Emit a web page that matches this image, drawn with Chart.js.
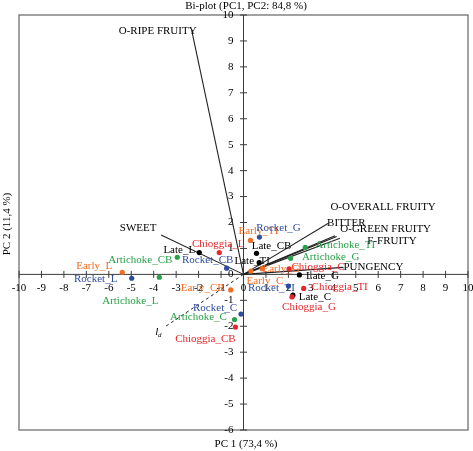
<!DOCTYPE html>
<html>
<head>
<title>Bi-plot PC1 / PC2</title>
<script src="https://cdn.jsdelivr.net/npm/chart.js"></script>
<style>
body { margin: 0; background: #fff; }
</style>
</head>
<body>
<canvas id="myChart" width="473" height="451"></canvas>
<script>
// tick labels
const xTicks = [-10, -9, -8, -7, -6, -5, -4, -3, -2, -1, 0, 1, 2, 3, 4, 5, 6, 7, 8, 9, 10];
const yTicks = [-6, -5, -4, -3, -2, -1, 0, 1, 2, 3, 4, 5, 6, 7, 8, 9, 10];

// sample scores (PC1, PC2) per group
const chioggiaNames = ['Chioggia_L', 'Chioggia_CB', 'Chioggia_C', 'Chioggia_TI', 'Chioggia_G'];
const chioggiaPC1 = [-1.08, -0.36, 2.03, 2.68, 2.16];
const chioggiaPC2 = [0.84, -2.03, 0.21, -0.54, -0.87];

const earlyNames = ['Early_L', 'Early_CB', 'Early_TI', 'Early_C', 'Early_G'];
const earlyPC1 = [-5.40, -0.57, 0.31, 0.33, 0.83];
const earlyPC2 = [0.08, -0.60, 1.31, 0.13, 0.22];

const rocketNames = ['Rocket_L', 'Rocket_CB', 'Rocket_C', 'Rocket_G', 'Rocket_TI'];
const rocketPC1 = [-4.98, -0.75, -0.11, 0.71, 2.00];
const rocketPC2 = [-0.15, 0.24, -1.53, 1.44, -0.45];

const artichokeNames = ['Artichoke_L', 'Artichoke_CB', 'Artichoke_C', 'Artichoke_TI', 'Artichoke_G'];
const artichokePC1 = [-3.75, -2.95, -0.40, 2.75, 2.10];
const artichokePC2 = [-0.11, 0.66, -1.74, 1.04, 0.62];

const lateNames = ['Late_L', 'Late_CB', 'Late_TI', 'Late_G', 'Late_C'];
const latePC1 = [-1.97, 0.58, 0.70, 2.49, 2.20];
const latePC2 = [0.84, 0.81, 0.45, -0.02, -0.80];

// attribute loadings
const attrNames = ['O-RIPE FRUITY', 'SWEET', 'BITTER', 'O-OVERALL FRUITY', 'O-GREEN FRUITY', 'F-FRUITY', 'PUNGENCY'];
const attrPC1 = [-2.31, -3.67, 3.78, 4.08, 4.15, 4.30, 4.45];
const attrPC2 = [9.42, 1.52, 1.97, 1.49, 1.46, 1.39, 0.27];

// discriminant direction l_d
const ldPC1 = -3.55;
const ldPC2 = -2.05;

// label placement (pixel offset of label centre from its point)
const labelOffset = {
  'Early_L': [-28, -6], 'Early_CB': [-28, -2], 'Early_TI': [8, -9], 'Early_C': [14, 10], 'Early_G': [19, 0],
  'Rocket_L': [-36, 1], 'Rocket_CB': [-19, -8], 'Rocket_C': [-26, -6], 'Rocket_G': [19, -9], 'Rocket_TI': [-17, 2],
  'Artichoke_L': [-29, 24], 'Artichoke_CB': [-37, 3], 'Artichoke_C': [-36, -2], 'Artichoke_TI': [40, -2], 'Artichoke_G': [40, -1],
  'Chioggia_L': [-1, -8], 'Chioggia_CB': [-30, 12], 'Chioggia_C': [29, -2], 'Chioggia_TI': [36, -1], 'Chioggia_G': [17, 10],
  'Late_L': [-20, -2], 'Late_CB': [15, -7], 'Late_TI': [-7, -2], 'Late_G': [23, 1], 'Late_C': [22, 2],
  'O-RIPE FRUITY': [-34, 1], 'SWEET': [-23, -7], 'BITTER': [18, 0], 'O-OVERALL FRUITY': [48, -29],
  'O-GREEN FRUITY': [49, -7], 'F-FRUITY': [52, 3], 'PUNGENCY': [30, 0]
};

const FONT = '11px "Liberation Serif", "Times New Roman", serif';
const colors = {
  early: '#f26c22',
  rocket: '#2e4c9e',
  artichoke: '#2aa04a',
  chioggia: '#e8252b',
  late: '#000000'
};

const groupList = [
  { names: chioggiaNames, pc1: chioggiaPC1, pc2: chioggiaPC2, color: colors.chioggia },
  { names: earlyNames, pc1: earlyPC1, pc2: earlyPC2, color: colors.early },
  { names: rocketNames, pc1: rocketPC1, pc2: rocketPC2, color: colors.rocket },
  { names: artichokeNames, pc1: artichokePC1, pc2: artichokePC2, color: colors.artichoke },
  { names: lateNames, pc1: latePC1, pc2: latePC2, color: colors.late }
];

const datasets = [];
groupList.forEach(g => {
  datasets.push({
    data: g.names.map((n, i) => ({ x: g.pc1[i], y: g.pc2[i], name: n })),
    backgroundColor: g.color,
    borderColor: g.color,
    pointRadius: 2.6,
    borderWidth: 0,
    labelColor: g.color
  });
});
attrNames.forEach((n, i) => {
  datasets.push({
    data: [{ x: 0, y: 0 }, { x: attrPC1[i], y: attrPC2[i], name: n }],
    showLine: true,
    borderColor: '#222',
    borderWidth: 1.1,
    pointRadius: 0,
    labelColor: '#000',
    isVector: true
  });
});
datasets.push({
  data: [{ x: 0, y: 0 }, { x: ldPC1, y: ldPC2 }],
  showLine: true,
  borderColor: '#222',
  borderWidth: 1,
  borderDash: [3, 3],
  pointRadius: 0,
  isLd: true
});

const biplot = {
  id: 'biplot',
  beforeDatasetsDraw(chart) {
    const { ctx, chartArea: a, scales: { x, y } } = chart;
    const x0 = x.getPixelForValue(0), y0 = y.getPixelForValue(0);
    ctx.save();
    ctx.strokeStyle = '#707070';
    ctx.lineWidth = 1.3;
    ctx.strokeRect(a.left, a.top, a.right - a.left, a.bottom - a.top);

    ctx.strokeStyle = '#3c3c3c';
    ctx.lineWidth = 1;
    ctx.beginPath();
    ctx.moveTo(a.left, y0); ctx.lineTo(a.right, y0);
    ctx.moveTo(x0, a.top); ctx.lineTo(x0, a.bottom);
    xTicks.forEach(v => {
      const px = x.getPixelForValue(v);
      ctx.moveTo(px, y0 - 3.5); ctx.lineTo(px, y0 + 3.5);
    });
    yTicks.forEach(v => {
      const py = y.getPixelForValue(v);
      ctx.moveTo(x0 - 3.5, py); ctx.lineTo(x0 + 3.5, py);
    });
    ctx.stroke();

    ctx.font = FONT;
    ctx.fillStyle = '#000';
    ctx.textBaseline = 'middle';
    ctx.textAlign = 'center';
    xTicks.forEach(v => ctx.fillText(String(v), x.getPixelForValue(v), y0 + 14));
    ctx.textAlign = 'right';
    yTicks.forEach(v => ctx.fillText(String(v), x0 - 10, y.getPixelForValue(v)));

    // titles
    ctx.textAlign = 'center';
    ctx.fillText('Bi-plot (PC1, PC2: 84,8 %)', 246, 6);
    ctx.fillText('PC 1 (73,4 %)', 246, 444);
    ctx.translate(7, 224);
    ctx.rotate(-Math.PI / 2);
    ctx.fillText('PC 2 (11,4 %)', 0, 0);
    ctx.restore();
  },
  afterDatasetsDraw(chart) {
    const { ctx, scales: { x, y } } = chart;
    ctx.save();
    ctx.font = FONT;
    ctx.textAlign = 'center';
    ctx.textBaseline = 'middle';
    chart.data.datasets.forEach(ds => {
      if (ds.isLd) {
        const px = x.getPixelForValue(ldPC1), py = y.getPixelForValue(ldPC2);
        ctx.fillStyle = '#000';
        ctx.font = 'italic 11px "Liberation Serif", serif';
        ctx.fillText('l', px - 7, py + 5);
        ctx.font = 'italic 7px "Liberation Serif", serif';
        ctx.fillText('d', px - 4, py + 8);
        ctx.font = FONT;
        return;
      }
      ds.data.forEach(p => {
        if (!p.name) return;
        const off = labelOffset[p.name] || [0, 0];
        ctx.fillStyle = ds.labelColor;
        ctx.fillText(p.name, x.getPixelForValue(p.x) + off[0], y.getPixelForValue(p.y) + off[1]);
      });
    });
    ctx.restore();
  }
};

const ctx = document.getElementById('myChart').getContext('2d');
new Chart(ctx, {
  type: 'scatter',
  data: { datasets: datasets },
  options: {
    responsive: false,
    animation: false,
    layout: { padding: { left: 19, top: 15, right: 5, bottom: 21 } },
    plugins: { legend: { display: false }, tooltip: { enabled: false } },
    scales: {
      x: { type: 'linear', min: -10, max: 10, display: false },
      y: { type: 'linear', min: -6, max: 10, display: false }
    }
  },
  plugins: [biplot]
});
</script>
</body>
</html>
